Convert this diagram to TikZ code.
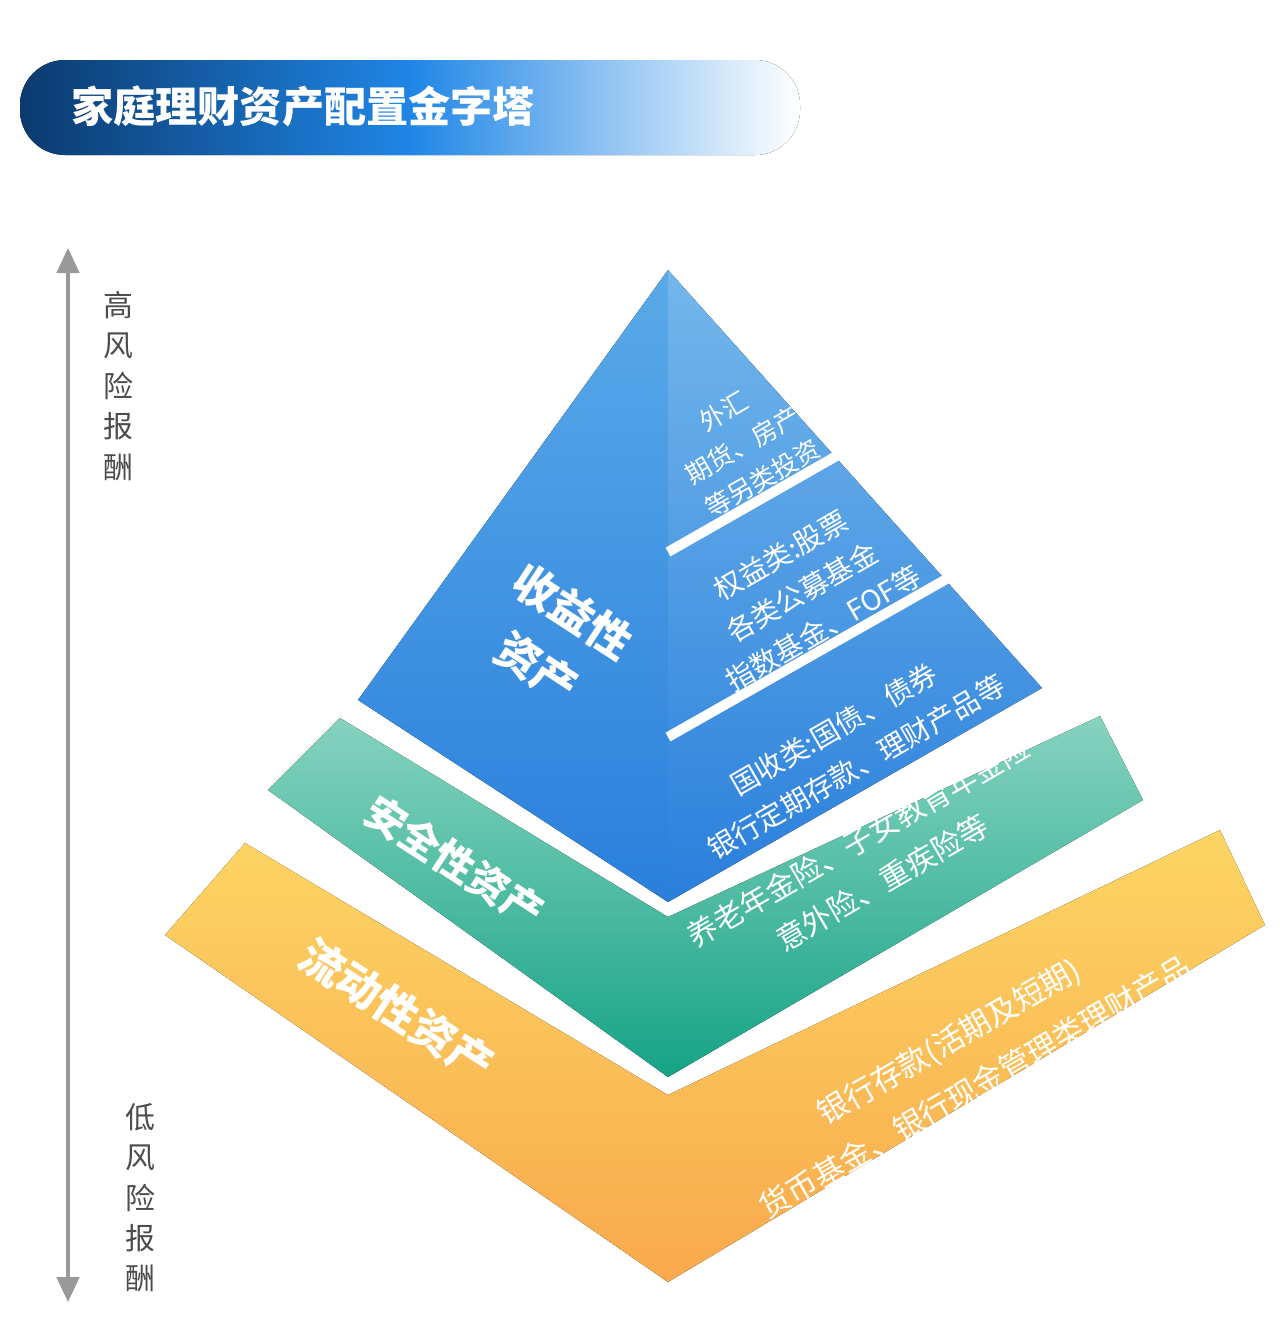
\documentclass[tikz,border=0pt]{standalone}
\usepackage{fontspec}
\setmainfont{Noto Sans CJK SC}
\usetikzlibrary{arrows.meta}
\definecolor{navy}{HTML}{0B3A6E}
\definecolor{skyblue}{HTML}{1F86E6}
\definecolor{bluetop}{HTML}{5AAAE8}
\definecolor{bluebot}{HTML}{2A7FDC}
\definecolor{greentop}{HTML}{86D3BE}
\definecolor{greenbot}{HTML}{16A386}
\definecolor{yellowtop}{HTML}{FCD564}
\definecolor{yellowbot}{HTML}{F9A94C}
\begin{document}
\begin{tikzpicture}[x=0.02cm,y=-0.02cm,
gap/.style={draw=white,line width=0.2cm,line join=miter},
biglabel/.style={text=white,font=\bfseries\fontsize{25}{30}\selectfont,align=center,rotate=-33},
small/.style={text=white,font=\fontsize{16}{19}\selectfont,align=center,rotate=30},
side/.style={text=black!70,font=\fontsize{17}{19}\selectfont,align=center}]
\useasboundingbox (0,0) rectangle (1280,1336);
% title bar
\fill[rounded corners=0.9cm,left color=navy,right color=white,middle color=skyblue]
  (20,60) rectangle (800,155);
\node (title) [text=white,font=\bfseries\fontsize{24}{28}\selectfont,anchor=west] at (65,106) {家庭理财资产配置金字塔};
% risk axis
\coordinate (rtop) at (68,248);
\coordinate (rbot) at (68,1302);
\draw[gray!80,line width=0.07cm,{Triangle[length=0.5cm,width=0.45cm]}-{Triangle[length=0.5cm,width=0.45cm]}] (rtop) -- (rbot);
\node (high) [side,anchor=north] at (118,285) {高\\[4pt]风\\[4pt]险\\[4pt]报\\[4pt]酬};
\node (low) [side,anchor=north] at (140,1097) {低\\[4pt]风\\[4pt]险\\[4pt]报\\[4pt]酬};
% yellow layer
\fill[top color=yellowtop,bottom color=yellowbot]
  (165,935) -- (245,843) -- (668,1095) -- (1220,830) -- (1265,925) -- (668,1282) -- cycle;
% green layer
\fill[top color=greentop,bottom color=greenbot]
  (268,790) -- (340,718) -- (668,917) -- (1100,716) -- (1143,800) -- (668,1077) -- cycle;
% blue pyramid
\fill[top color=bluetop,bottom color=bluebot]
  (358,700) -- (668,270) -- (668,902) -- cycle;
\fill[top color=bluetop!85!white,bottom color=bluebot]
  (668,270) -- (1042,688) -- (668,902) -- cycle;
\draw[gap] (668,552) -- (840,454);
\draw[gap] (668,737) -- (950,577);
% labels
\node (income) [biglabel] at (555,640) {收益性\\[8pt]资产};
\node (safe) [biglabel,font=\bfseries\fontsize{23}{27}\selectfont] at (455,862) {安全性资产};
\node (liquid) [biglabel] at (397,1010) {流动性资产};
\node (alt) [small,font=\fontsize{14.5}{17}\selectfont] at (743,445) {外汇\\[5pt]期货、房产\\[5pt]等另类投资};
\node (equity) [small] at (802,592) {权益类:股票\\[5pt]各类公募基金\\[5pt]指数基金、FOF等};
\node (fixed) [small] at (845,748) {国收类:国债、债券\\[6pt]银行定期存款、理财产品等};
\node (insure) [small,font=\fontsize{17}{21}\selectfont] at (870,862) {养老年金险、子女教育年金险\\[6pt]意外险、重疾险等};
\node (cash) [small,font=\fontsize{17.5}{22}\selectfont] at (962,1064) {银行存款(活期及短期)\\[8pt]货币基金、银行现金管理类理财产品};
\end{tikzpicture}
\end{document}
